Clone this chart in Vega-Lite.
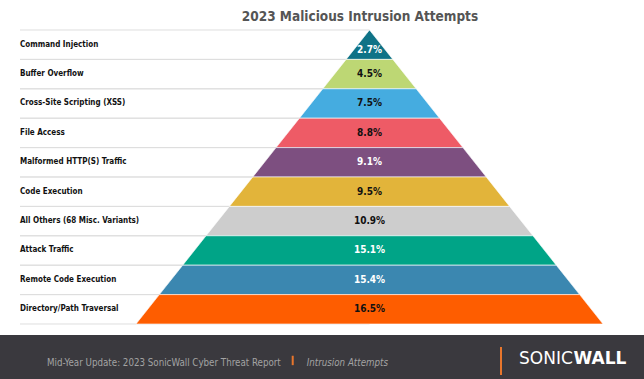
{
  "$schema": "https://vega.github.io/schema/vega-lite/v6.json",
  "width": 644,
  "height": 379,
  "autosize": {"type": "none"},
  "padding": 0,
  "background": "white",
  "config": {"view": {"stroke": null}},
  "datasets": {
    "attacks": [
      {"category": "Command Injection", "value": 2.7, "rank": 1},
      {"category": "Buffer Overflow", "value": 4.5, "rank": 2},
      {"category": "Cross-Site Scripting (XSS)", "value": 7.5, "rank": 3},
      {"category": "File Access", "value": 8.8, "rank": 4},
      {"category": "Malformed HTTP(S) Traffic", "value": 9.1, "rank": 5},
      {"category": "Code Execution", "value": 9.5, "rank": 6},
      {"category": "All Others (68 Misc. Variants)", "value": 10.9, "rank": 7},
      {"category": "Attack Traffic", "value": 15.1, "rank": 8},
      {"category": "Remote Code Execution", "value": 15.4, "rank": 9},
      {"category": "Directory/Path Traversal", "value": 16.5, "rank": 10}
    ],
    "footer": [
      {"title": "2023 Malicious Intrusion Attempts", "report": "Mid-Year Update: 2023 SonicWall Cyber Threat Report", "section": "Intrusion Attempts", "brand1": "SONIC", "brand2": "WALL"}
    ]
  },
  "layer": [
    {
      "data": {"name": "footer"},
      "mark": {"type": "rect", "color": "#3a393e"},
      "encoding": {
        "x": {"datum": -1.5825, "type": "quantitative", "scale": {"domain": [-1.5825, 1.1756], "nice": false, "zero": false}, "axis": null},
        "x2": {"datum": 1.1756},
        "y": {"datum": 10.374, "type": "quantitative", "scale": {"domain": [-1.0204, 11.871], "nice": false, "zero": false, "reverse": true}, "axis": null},
        "y2": {"datum": 11.871}
      }
    },
    {
      "data": {"name": "attacks"},
      "transform": [
        {"calculate": "[datum.rank - 1, datum.rank]", "as": "ends"},
        {"flatten": ["ends"], "as": ["yy"]}
      ],
      "mark": {"type": "rule", "color": "#dedede", "strokeWidth": 1},
      "encoding": {
        "y": {"field": "yy", "type": "quantitative"},
        "x": {"datum": -1.4968, "type": "quantitative"},
        "x2": {"datum": 0}
      }
    },
    {
      "data": {"name": "attacks"},
      "transform": [
        {"calculate": "[datum.rank - 1, datum.rank]", "as": "ends"},
        {"flatten": ["ends"], "as": ["yy"]},
        {"calculate": "-datum.yy / 10", "as": "xl"},
        {"calculate": "datum.yy / 10", "as": "xr"}
      ],
      "mark": {"type": "area", "orient": "horizontal", "stroke": "white", "strokeWidth": 0.6, "opacity": 1, "fillOpacity": 1},
      "encoding": {
        "y": {"field": "yy", "type": "quantitative"},
        "x": {"field": "xl", "type": "quantitative"},
        "x2": {"field": "xr"},
        "color": {
          "field": "category",
          "type": "nominal",
          "legend": null,
          "scale": {
            "domain": ["Command Injection", "Buffer Overflow", "Cross-Site Scripting (XSS)", "File Access", "Malformed HTTP(S) Traffic", "Code Execution", "All Others (68 Misc. Variants)", "Attack Traffic", "Remote Code Execution", "Directory/Path Traversal"],
            "range": ["#0f7387", "#bdd774", "#45ace0", "#ee5b66", "#7d4f80", "#e2b43a", "#cdcdcd", "#00a487", "#3b87b0", "#fe5d00"]
          }
        }
      }
    },
    {
      "data": {"name": "attacks"},
      "transform": [
        {"calculate": "datum.rank == 1 ? 0.68 : datum.rank - 0.5", "as": "mid"},
        {"calculate": "format(datum.value, '.1f') + '%'", "as": "pct"}
      ],
      "mark": {"type": "text", "font": "'Liberation Sans Narrow', 'DejaVu Sans Condensed', Roboto", "fontWeight": "bold", "fontSize": 10, "align": "center", "baseline": "middle"},
      "encoding": {
        "y": {"field": "mid", "type": "quantitative"},
        "x": {"datum": 0, "type": "quantitative"},
        "text": {"field": "pct"},
        "color": {
          "condition": {"test": "indexof(['Command Injection','Malformed HTTP(S) Traffic','Attack Traffic','Remote Code Execution'], datum.category) >= 0", "value": "white"},
          "value": "#111111"
        }
      }
    },
    {
      "data": {"name": "attacks"},
      "transform": [
        {"calculate": "datum.rank - 0.5", "as": "mid"}
      ],
      "mark": {"type": "text", "font": "'Liberation Sans Narrow', 'DejaVu Sans Condensed', Roboto", "fontWeight": "bold", "fontSize": 8, "align": "left", "baseline": "middle", "color": "#111111"},
      "encoding": {
        "y": {"field": "mid", "type": "quantitative"},
        "x": {"datum": -1.4968, "type": "quantitative"},
        "text": {"field": "category"}
      }
    },
    {
      "data": {"name": "footer"},
      "mark": {"type": "text", "font": "'DejaVu Sans Condensed', Roboto", "fontWeight": "bold", "fontSize": 13.5, "align": "center", "baseline": "alphabetic", "color": "#555555"},
      "encoding": {
        "x": {"datum": -0.0407, "type": "quantitative"},
        "y": {"datum": -0.306, "type": "quantitative"},
        "text": {"field": "title"}
      }
    },
    {
      "data": {"name": "footer"},
      "mark": {"type": "text", "font": "'DejaVu Sans Condensed', Roboto", "fontSize": 9.7, "align": "left", "baseline": "middle", "color": "#a3a3a3"},
      "encoding": {
        "x": {"datum": -1.3812, "type": "quantitative"},
        "y": {"datum": 11.327, "type": "quantitative"},
        "text": {"field": "report"}
      }
    },
    {
      "data": {"name": "footer"},
      "mark": {"type": "text", "font": "'DejaVu Sans Condensed', Roboto", "fontSize": 9.7, "fontStyle": "italic", "align": "left", "baseline": "middle", "color": "#a3a3a3"},
      "encoding": {
        "x": {"datum": -0.269, "type": "quantitative"},
        "y": {"datum": 11.327, "type": "quantitative"},
        "text": {"field": "section"}
      }
    },
    {
      "data": {"name": "footer"},
      "mark": {"type": "rule", "color": "#e8762c", "strokeWidth": 2},
      "encoding": {
        "x": {"datum": -0.3289, "type": "quantitative"},
        "y": {"datum": 11.08, "type": "quantitative"},
        "y2": {"datum": 11.40}
      }
    },
    {
      "data": {"name": "footer"},
      "mark": {"type": "rule", "color": "#e8762c", "strokeWidth": 2},
      "encoding": {
        "x": {"datum": 0.5632, "type": "quantitative"},
        "y": {"datum": 10.782, "type": "quantitative"},
        "y2": {"datum": 11.735}
      }
    },
    {
      "data": {"name": "footer"},
      "mark": {"type": "text", "font": "'DejaVu Sans', Roboto", "fontSize": 17, "align": "left", "baseline": "middle", "color": "white"},
      "encoding": {
        "x": {"datum": 0.6403, "type": "quantitative"},
        "y": {"datum": 11.18, "type": "quantitative"},
        "text": {"field": "brand1"}
      }
    },
    {
      "data": {"name": "footer"},
      "mark": {"type": "text", "font": "'DejaVu Sans', Roboto", "fontSize": 17, "fontWeight": "bold", "align": "left", "baseline": "middle", "color": "white"},
      "encoding": {
        "x": {"datum": 0.8737, "type": "quantitative"},
        "y": {"datum": 11.18, "type": "quantitative"},
        "text": {"field": "brand2"}
      }
    }
  ]
}
